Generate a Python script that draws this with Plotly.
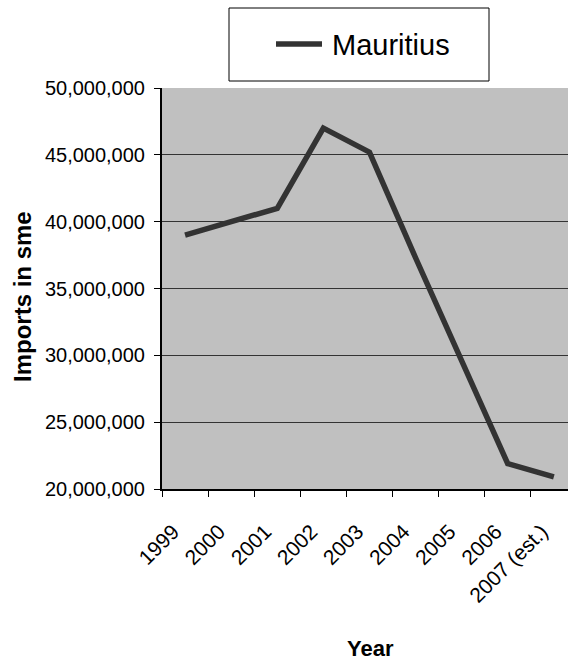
import plotly.graph_objects as go

# Mauritius imports (sme), by year
years = ["1999", "2000", "2001", "2002", "2003", "2004", "2005", "2006", "2007 (est.)"]
imports_sme = [39000000, 40000000, 41000000, 47000000, 45200000, 37300000, 29500000, 21900000, 20900000]
y_ticks = [20000000, 25000000, 30000000, 35000000, 40000000, 45000000, 50000000]
series_name = "Mauritius"

W, H = 568, 662
L, R, T, B = 162, 0, 88, 173          # plot margins in px
PW, PH = W - L - R, H - T - B


def px_x(px):
    return (px - L) / PW


def px_y(py):
    return (H - B - py) / PH


FONT = "Liberation Sans, Arial, sans-serif"
LINE_COL = "#333333"

fig = go.Figure()
fig.add_trace(go.Scatter(
    x=years, y=imports_sme, mode="lines", name=series_name,
    line=dict(color=LINE_COL, width=5.5), showlegend=False,
))

fig.update_layout(
    width=W, height=H,
    margin=dict(l=L, r=R, t=T, b=B, pad=0),
    paper_bgcolor="white",
    plot_bgcolor="#C0C0C0",
    font=dict(family=FONT, color="black", size=20),
    xaxis=dict(
        type="category",
        range=[-0.5, -0.5 + PW / 46.1],
        tickson="boundaries",
        ticks="outside", ticklen=6, tickwidth=1, tickcolor="black",
        tickangle=-45,
        tickfont=dict(size=21),
        showgrid=False,
        showline=True, linecolor="black", linewidth=2,
        zeroline=False,
        ticklabelstandoff=20,
        ticklabelshift=-12,
    ),
    yaxis=dict(
        range=[20000000, 50000000],
        tickvals=y_ticks,
        tickformat=",d",
        ticks="outside", ticklen=6, tickwidth=1, tickcolor="black",
        tickfont=dict(size=20),
        showgrid=True, gridcolor=LINE_COL, gridwidth=1,
        showline=True, linecolor="black", linewidth=2,
        zeroline=False,
        ticklabelstandoff=5,
    ),
    shapes=[
        # legend frame
        dict(type="rect", xref="paper", yref="paper",
             x0=px_x(229), x1=px_x(489), y0=px_y(81), y1=px_y(8),
             line=dict(color="black", width=1), fillcolor="white", layer="above"),
        # legend key
        dict(type="line", xref="paper", yref="paper",
             x0=px_x(276), x1=px_x(322), y0=px_y(44), y1=px_y(44),
             line=dict(color=LINE_COL, width=5.5), layer="above"),
    ],
    annotations=[
        dict(text=series_name, xref="paper", yref="paper",
             x=px_x(330), y=px_y(45), xanchor="left", yanchor="middle",
             showarrow=False, font=dict(size=29, color="black")),
        dict(text="<b>Imports in sme</b>", xref="paper", yref="paper",
             x=px_x(22), y=px_y(297), xanchor="center", yanchor="middle",
             textangle=-90, showarrow=False, font=dict(size=24, color="black")),
        dict(text="<b>Year</b>", xref="paper", yref="paper",
             x=px_x(370), y=px_y(648), xanchor="center", yanchor="middle",
             showarrow=False, font=dict(size=22, color="black")),
    ],
)

fig.write_html("out.html")
